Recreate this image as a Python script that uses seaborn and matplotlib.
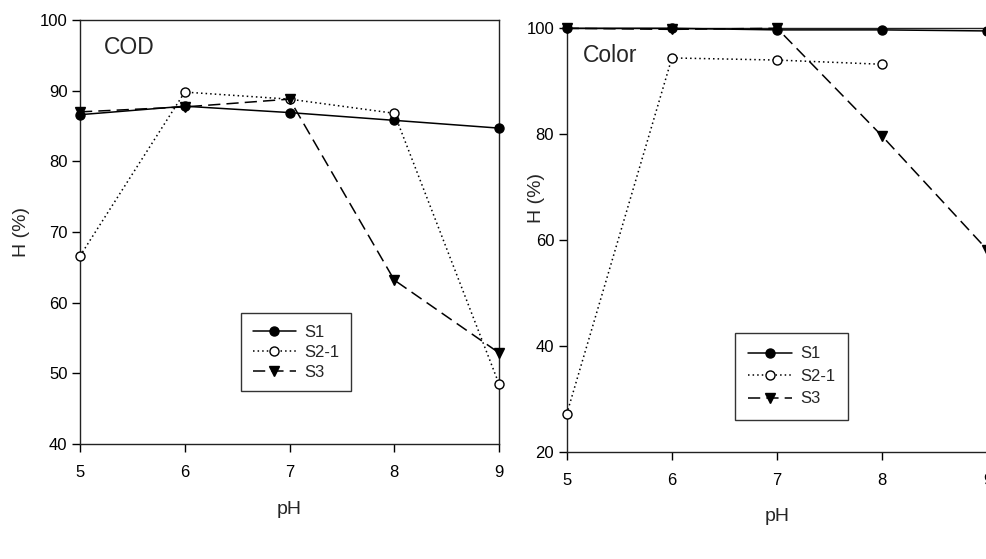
import matplotlib
matplotlib.use("Agg")
import matplotlib.pyplot as plt
import seaborn as sns
import pandas as pd

# pH levels tested
ph = [5, 6, 7, 8, 9]

# COD removal efficiency H (%)
cod_s1 = [86.6, 87.8, 86.9, 85.8, 84.7]
cod_s21 = [66.6, 89.8, 88.8, 86.8, 48.5]
cod_s3 = [87.0, 87.7, 88.8, 63.2, 52.9]

# Color removal efficiency H (%)  (S2-1 has no value at pH 9)
col_s1 = [100.0, 100.0, 99.7, 99.7, 99.5]
col_s21 = [27.1, 94.4, 94.0, 93.2, None]
col_s3 = [100.0, 99.8, 100.0, 79.6, 58.1]

series_names = ["S1", "S2-1", "S3"]

sns.set_style("ticks")
plt.rcParams["font.family"] = ["Liberation Sans", "DejaVu Sans"]

W, H = 986, 559
fig = plt.figure(figsize=(W / 100, H / 100), dpi=100)


def px_axes(x0, y0, x1, y1):
    return fig.add_axes([x0 / W, 1 - y1 / H, (x1 - x0) / W, (y1 - y0) / H])


ax1 = px_axes(80, 20, 499, 444)
ax2 = px_axes(566.7, 28.3, 987.5, 451.7)

styles = {
    "S1": dict(linestyle="-", marker="o", markerfacecolor="black"),
    "S2-1": dict(linestyle=(0, (1, 2)), marker="o", markerfacecolor="white"),
    "S3": dict(linestyle=(0, (8, 4)), marker="v", markerfacecolor="black"),
}


def draw(ax, values):
    handles = []
    for name, vals in zip(series_names, values):
        df = pd.DataFrame({"pH": ph, "H": vals}).dropna()
        st = styles[name]
        sns.lineplot(data=df, x="pH", y="H", ax=ax, color="black",
                     linewidth=1.1, linestyle=st["linestyle"],
                     marker=st["marker"], markersize=6.5,
                     markerfacecolor=st["markerfacecolor"],
                     markeredgecolor="black", markeredgewidth=1.0,
                     clip_on=False, zorder=3)
        handles.append(ax.lines[-1])
    return handles


h1 = draw(ax1, [cod_s1, cod_s21, cod_s3])
h2 = draw(ax2, [col_s1, col_s21, col_s3])

for ax in (ax1, ax2):
    ax.set_xlim(5, 9)
    ax.set_xticks(ph)
    for sp in ax.spines.values():
        sp.set_color("#222222")
        sp.set_linewidth(1.0)
    ax.tick_params(direction="out", length=6, width=1, labelsize=12,
                   colors="black", pad=3)
    ax.tick_params(axis="x", pad=9)
    ax.set_xlabel("pH", fontsize=14, labelpad=15)
    ax.set_ylabel("H (%)", fontsize=14)

ax1.set_ylim(40, 100)
ax1.set_yticks(range(40, 101, 10))
ax2.set_ylim(20, 100)
ax2.set_yticks(range(20, 101, 20))

ax1.yaxis.set_label_coords(-0.119, 0.5)
ax2.yaxis.set_label_coords(-0.052, 0.6)

# panel titles, placed in figure pixel coordinates
fig.text(104 / W, 1 - 48 / H, "COD", fontsize=16.5, va="center", ha="left")
fig.text(583 / W, 1 - 55 / H, "Color", fontsize=16.5, va="center", ha="left")

leg_kw = dict(frameon=True, fancybox=False, edgecolor="black", fontsize=12,
              handlelength=2.6, handletextpad=0.5, borderpad=0.7,
              labelspacing=0.3, borderaxespad=0)
lg1 = ax1.legend(h1, series_names, loc="upper left",
                 bbox_to_anchor=(241 / W, 1 - 313 / H),
                 bbox_transform=fig.transFigure, **leg_kw)
lg2 = ax2.legend(h2, series_names, loc="upper left",
                 bbox_to_anchor=(735 / W, 1 - 333 / H),
                 bbox_transform=fig.transFigure,
                 **{**leg_kw, "labelspacing": 0.45, "borderpad": 0.8})
for lg in (lg1, lg2):
    lg.get_frame().set_linewidth(1.0)

fig.savefig("out.png", dpi=100)
